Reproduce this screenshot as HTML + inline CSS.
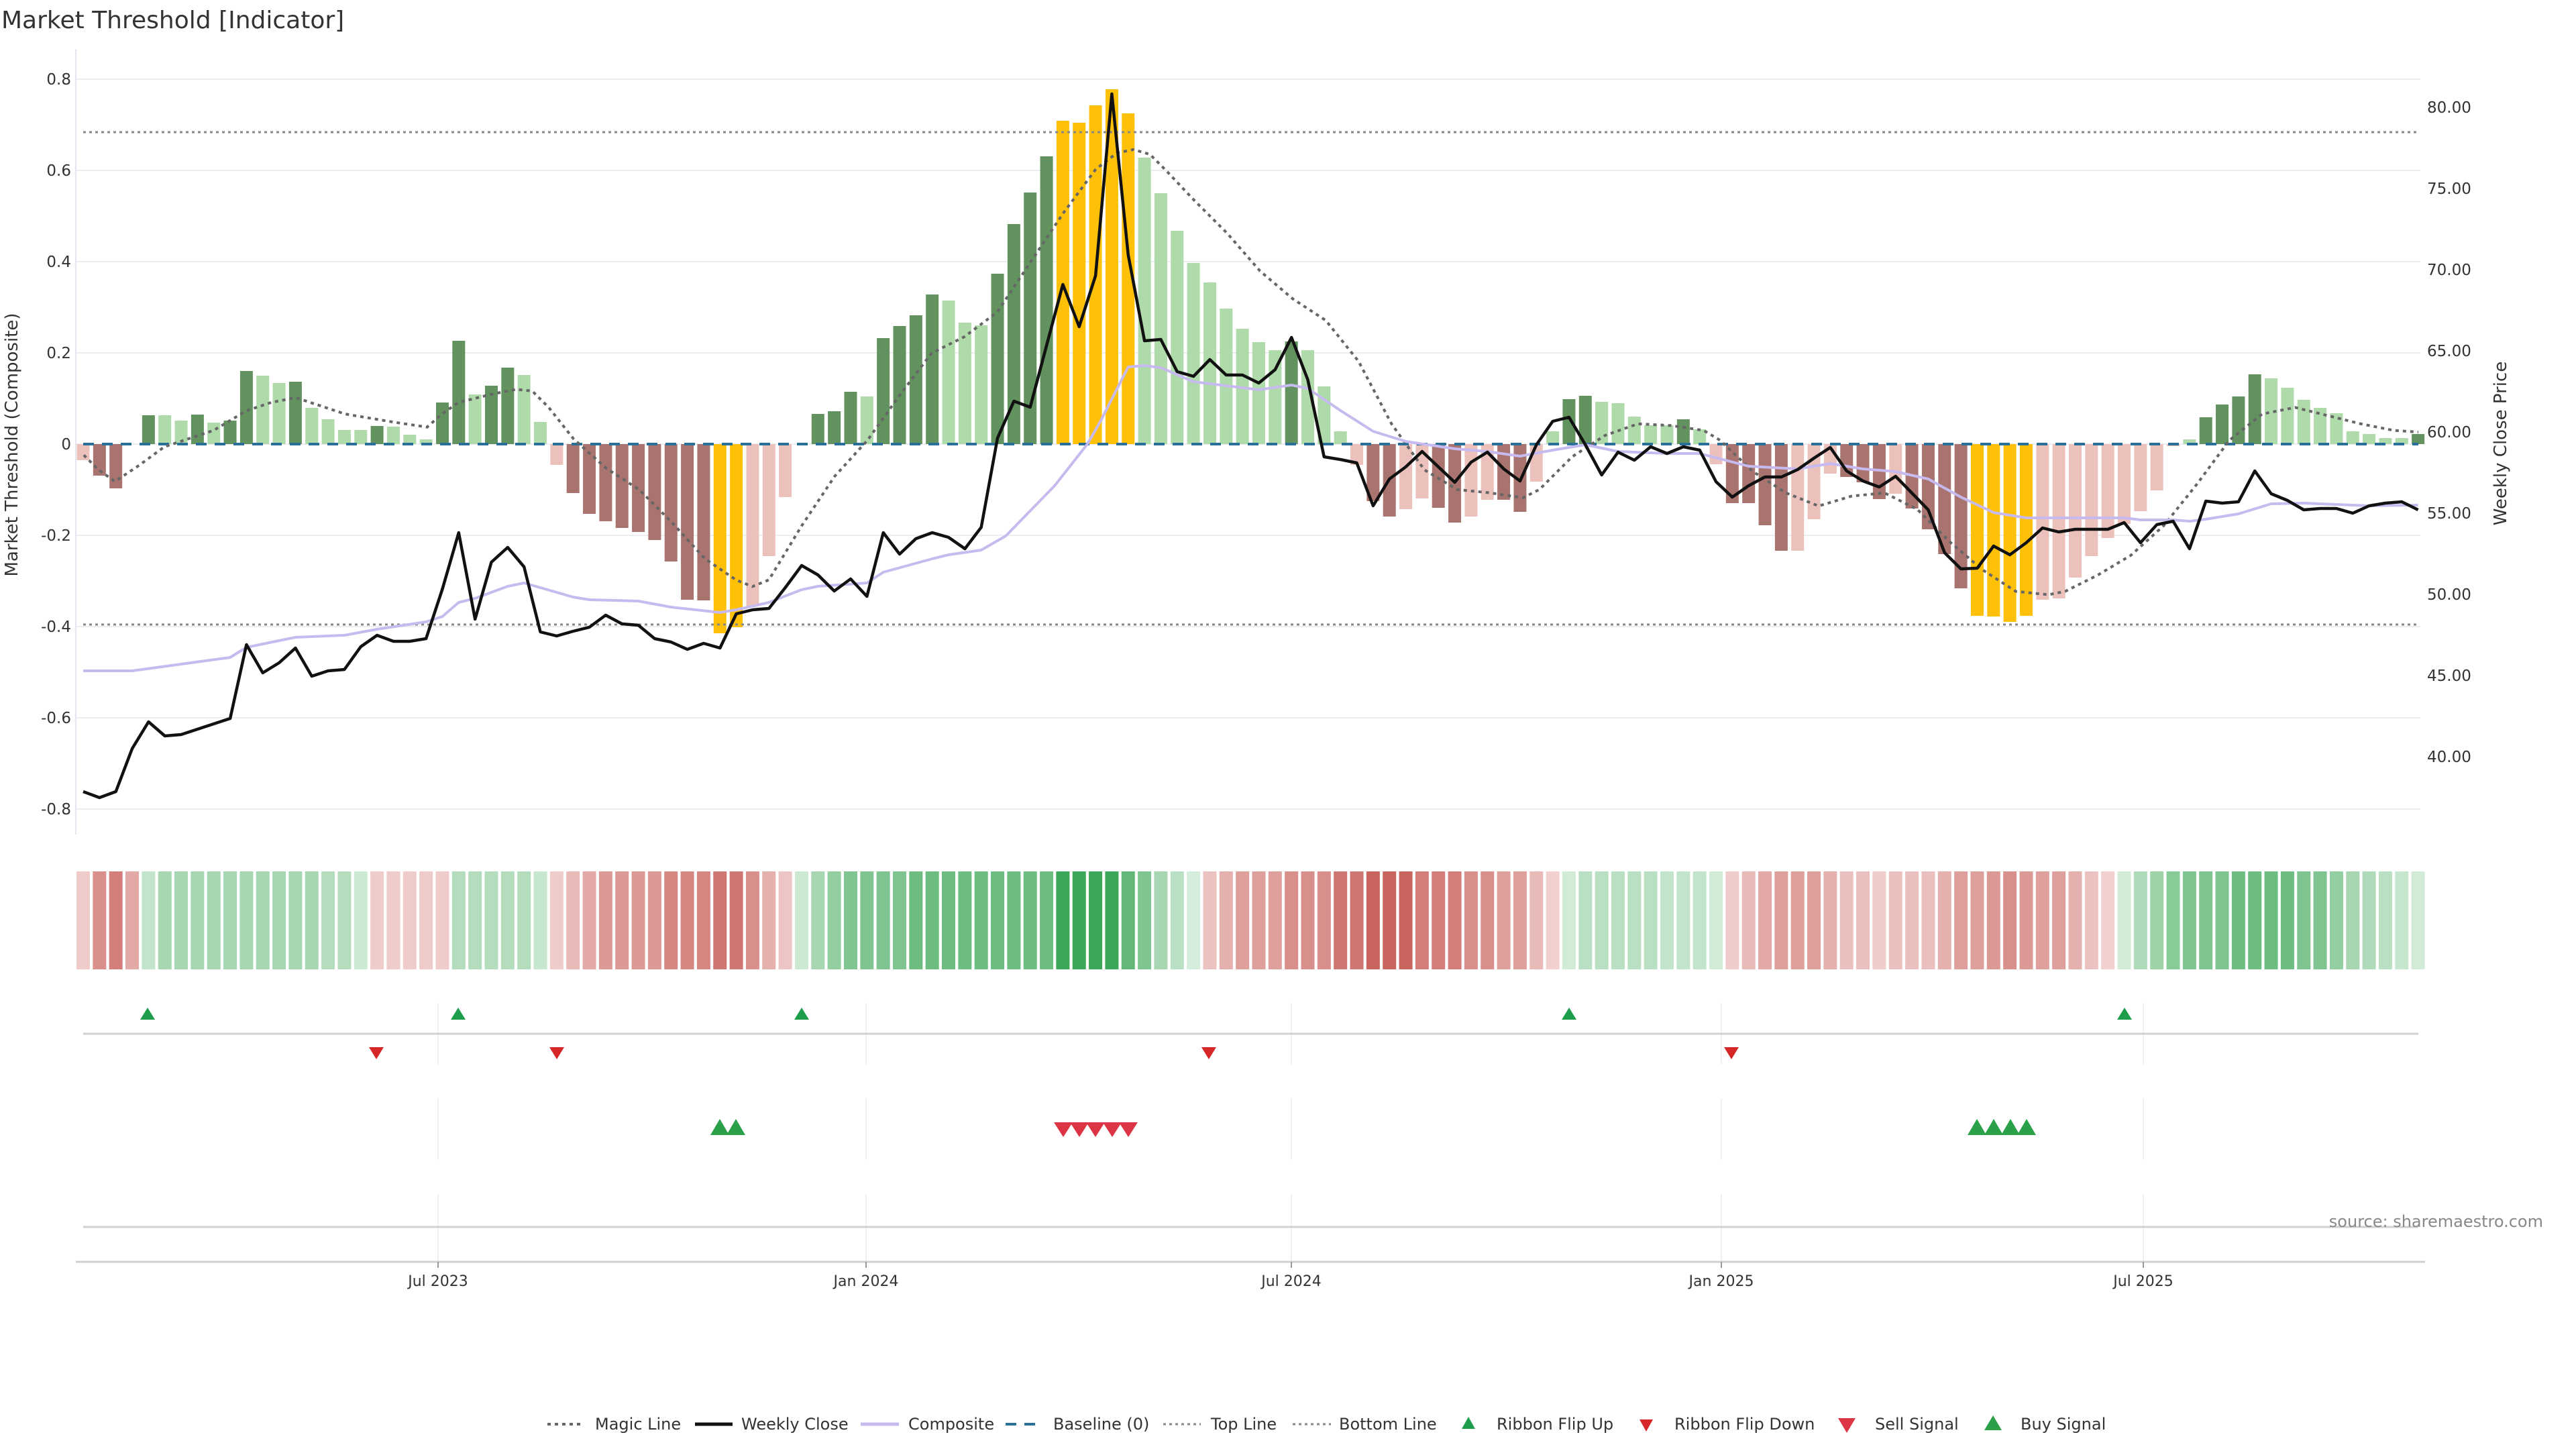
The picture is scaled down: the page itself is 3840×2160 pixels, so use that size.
<!DOCTYPE html>
<html><head><meta charset="utf-8">
<style>
html,body{margin:0;padding:0;background:#fff;}
svg{display:block;font-family:"DejaVu Sans","Liberation Sans",sans-serif;}
</style></head>
<body>
<svg id="s" xmlns="http://www.w3.org/2000/svg" width="3840" height="2160" viewBox="0 0 3840 2160">
<rect width="3840" height="2160" fill="#fff"/>
<text x="2" y="42" font-size="36" fill="#333">Market Threshold [Indicator]</text>
<g id="grid"></g>
<g id="bars"></g>
<g id="lines"></g>
<g id="ribbon"></g>
<g id="sig"></g>
<g id="axes"></g>
<text x="3791" y="1829" font-size="24" fill="#888" text-anchor="end">source: sharemaestro.com</text>
<text transform="translate(26,663) rotate(-90)" font-size="26" fill="#333" text-anchor="middle">Market Threshold (Composite)</text>
<text transform="translate(3736,661) rotate(-90)" font-size="26" fill="#333" text-anchor="middle">Weekly Close Price</text>
<g id="legend" font-size="24" fill="#333"></g>
</svg>
<script>
const NS="http://www.w3.org/2000/svg";
function el(p,t,a,txt){const e=document.createElementNS(NS,t);for(const k in a)e.setAttribute(k,a[k]);if(txt!==undefined)e.textContent=txt;document.getElementById(p).appendChild(e);return e;}
const X=i=>124+i*24.34;
const Y=v=>662-v*680;
const L=113,R=3615;
// grid
[0.8,0.6,0.4,0.2,0,-0.2,-0.4,-0.6,-0.8].forEach(v=>{
 el("grid","line",{x1:L,x2:3608,y1:Y(v),y2:Y(v),stroke:"#eceef2","stroke-width":2});
 el("axes","text",{x:106,y:Y(v)+8,"font-size":23,fill:"#333","text-anchor":"end"},v==0?"0":v.toFixed(1));
});
el("grid","line",{x1:L,x2:L,y1:73,y2:1244,stroke:"#e6e6ee","stroke-width":2});
[80,75,70,65,60,55,50,45,40].forEach(p=>{
 el("axes","text",{x:3618,y:160+(80-p)*24.2+8,"font-size":23,fill:"#333"},p.toFixed(2));
});
// bars
const B=[["P",-24],["B",-47],["B",-66],["N",0],["D",43],["L",43],["L",35],["D",44],["L",32],["D",35],["D",109],["L",102],["L",91],["D",93],["L",54],["L",37],["L",21],["L",21],["D",27],["L",26],["L",14],["L",7],["D",62],["D",154],["L",74],["D",87],["D",114],["L",103],["L",33],["P",-31],["B",-73],["B",-104],["B",-115],["B",-125],["B",-131],["B",-143],["B",-175],["B",-232],["B",-233],["Y",-282],["Y",-273],["P",-242],["P",-167],["P",-79],["N",0],["D",45],["D",49],["D",78],["L",71],["D",158],["D",176],["D",192],["D",223],["L",214],["L",181],["L",177],["D",254],["D",328],["D",375],["D",429],["Y",482],["Y",479],["Y",505],["Y",529],["Y",493],["L",427],["L",374],["L",318],["L",270],["L",241],["L",202],["L",172],["L",152],["L",140],["D",153],["L",140],["L",86],["L",19],["P",-31],["B",-85],["B",-108],["P",-97],["P",-81],["B",-95],["B",-117],["P",-108],["P",-83],["B",-83],["B",-101],["P",-56],["L",19],["D",67],["D",72],["L",63],["L",61],["L",41],["L",28],["L",28],["D",37],["L",22],["P",-30],["B",-88],["B",-88],["B",-121],["B",-159],["P",-159],["P",-112],["P",-44],["B",-49],["B",-57],["B",-82],["P",-74],["B",-96],["B",-127],["B",-164],["B",-215],["Y",-256],["Y",-257],["Y",-265],["Y",-256],["P",-232],["P",-230],["P",-199],["P",-167],["P",-140],["P",-119],["P",-100],["P",-69],["P",-3],["L",7],["D",40],["D",59],["D",71],["D",104],["L",98],["L",84],["L",66],["L",54],["L",46],["L",19],["L",15],["L",9],["L",9],["D",15]];
const C={P:"#ecc1bc",B:"#a9746f",D:"#62935f",L:"#afdaa9",Y:"#ffc107"};
B.forEach((b,i)=>{if(b[0]=="N")return;const h=b[1];
 el("bars","rect",{x:X(i)-9.5,y:h>0?662-h:662,width:19,height:Math.abs(h),fill:C[b[0]]});});
// threshold lines
el("lines","line",{x1:124,x2:3605,y1:197,y2:197,stroke:"#888","stroke-width":3,"stroke-dasharray":"4 5"});
el("lines","line",{x1:124,x2:3605,y1:931,y2:931,stroke:"#888","stroke-width":3,"stroke-dasharray":"4 5"});
el("lines","line",{x1:124,x2:3605,y1:662,y2:662,stroke:"#2a6f97","stroke-width":4,"stroke-dasharray":"16 12"});
// magic
const M=[[51,277],[60,286],[70,293],[85,283],[100,272],[130,262],[150,250],[165,245],[180,242],[210,252],[240,257],[260,260],[269,252],[279,245],[299,240],[314,237],[324,238],[334,248],[349,267],[369,285],[389,298],[409,318],[429,340],[448,353],[458,357],[468,353],[488,320],[508,290],[528,268],[548,240],[567,215],[587,205],[607,190],[627,160],[647,130],[667,103],[680,93],[690,91],[700,94],[710,104],[727,122],[747,142],[767,165],[787,182],[807,195],[827,220],[847,258],[867,286],[887,298],[907,300],[927,303],[937,298],[957,278],[977,265],[997,258],[1017,259],[1037,262],[1047,268],[1067,287],[1087,300],[1107,308],[1127,302],[1147,300],[1167,310],[1187,330],[1207,347],[1227,360],[1247,362],[1257,360],[1277,350],[1297,338],[1317,320],[1337,295],[1357,268],[1377,252],[1397,248],[1417,253],[1437,258],[1457,262],[1472,263]];
el("lines","polyline",{points:M.map(p=>(p[0]*2.449).toFixed(1)+","+(p[1]*2.449).toFixed(1)).join(" "),fill:"none",stroke:"#666","stroke-width":4,"stroke-dasharray":"5 6"});
// composite
const CP=[[0,1000],[3,1000],[9,980],[10,965],[13,950],[16,947],[18,938],[21,927],[22,919],[23,898],[24,892],[26,874],[27,869],[28,876],[30,890],[31,894],[34,896],[36,905],[39,913],[40,909],[42,898],[44,879],[45,874],[48,869],[49,853],[52,833],[53,827],[55,820],[56.5,799],[59.5,724],[61.5,662],[62.3,628],[64,547],[65,545],[66,548],[68,569],[72,581],[74,574],[75,579],[77,612],[79,643],[81,658],[84,669],[86,673],[88,680],[90,671],[92,663],[94,673],[97,676],[99,676],[102,695],[105,699],[107,691],[109,699],[111,703],[113,714],[115,741],[117,764],[119,772],[125,772],[126,775],[128,775],[129,777],[130,774],[132,766],[134,751],[136,750],[140,754],[143,753]];
el("lines","polyline",{points:CP.map(p=>X(p[0]).toFixed(1)+","+p[1]).join(" "),fill:"none",stroke:"#c6baee","stroke-width":4,"stroke-linejoin":"round"});
// close
const K=[1180,1189,1180,1116,1076,1097,1095,1087,1079,1071,961,1003,988,966,1008,1000,998,964,947,956,956,952,878,794,923,838,816,845,942,948,941,935,917,930,932,952,957,968,959,966,915,909,907,876,843,857,881,863,889,794,826,803,794,801,818,786,653,598,607,515,424,487,411,140,380,508,506,554,561,536,559,559,571,551,503,566,681,685,690,754,714,696,673,696,719,689,674,699,717,663,628,622,663,708,674,686,666,676,666,671,718,741,724,711,711,700,683,667,702,717,726,710,735,760,824,848,847,814,827,809,787,793,789,789,789,779,809,782,777,818,747,750,748,702,736,746,760,758,758,765,754,750,748,760];
el("lines","polyline",{points:K.map((y,i)=>X(i).toFixed(1)+","+y).join(" "),fill:"none",stroke:"#111","stroke-width":4.5,"stroke-linejoin":"round"});
// ribbon
const S=[-0.15,-0.5,-0.6,-0.35,0.2,0.35,0.35,0.35,0.35,0.35,0.35,0.35,0.35,0.35,0.35,0.28,0.28,0.15,-0.15,-0.15,-0.15,-0.15,-0.15,0.28,0.28,0.28,0.28,0.28,0.18,-0.15,-0.25,-0.35,-0.45,-0.45,-0.45,-0.45,-0.55,-0.55,-0.55,-0.65,-0.65,-0.5,-0.3,-0.18,0.15,0.35,0.45,0.55,0.55,0.55,0.55,0.65,0.65,0.65,0.65,0.65,0.65,0.65,0.65,0.65,0.9,0.9,0.9,0.9,0.7,0.55,0.35,0.25,0.1,-0.2,-0.3,-0.4,-0.4,-0.4,-0.5,-0.5,-0.5,-0.65,-0.65,-0.75,-0.75,-0.75,-0.6,-0.6,-0.6,-0.5,-0.5,-0.4,-0.4,-0.25,-0.12,0.12,0.25,0.25,0.25,0.25,0.25,0.2,0.2,0.2,0.12,-0.15,-0.25,-0.35,-0.4,-0.4,-0.4,-0.3,-0.22,-0.22,-0.15,-0.22,-0.22,-0.22,-0.3,-0.4,-0.4,-0.45,-0.5,-0.45,-0.4,-0.4,-0.3,-0.2,-0.12,0.12,0.3,0.4,0.5,0.55,0.55,0.55,0.65,0.65,0.65,0.65,0.55,0.55,0.45,0.35,0.3,0.25,0.18,0.12];
function mix(a,b,t){t=Math.max(0,Math.min(1,t));return "rgb("+a.map((v,k)=>Math.round(v+(b[k]-v)*t)).join(",")+")";}
S.forEach((s,i)=>{const c=s>=0?mix([232,246,235],[52,162,79],s/0.95):mix([248,228,228],[198,92,86],-s/0.8);
 el("ribbon","rect",{x:X(i)-10,y:1299,width:20,height:146,fill:c});});
// signal panel
[653,1291,1925,2566,3195].forEach(x=>{
 [[1495,1586],[1638,1729],[1780,1881]].forEach(s=>el("grid","line",{x1:x,x2:x,y1:s[0],y2:s[1],stroke:"#eef0f3","stroke-width":2}));
});
el("axes","line",{x1:124,x2:3605,y1:1541,y2:1541,stroke:"#d0d0d0","stroke-width":3});
el("axes","line",{x1:124,x2:3605,y1:1829,y2:1829,stroke:"#d0d0d0","stroke-width":3});
el("axes","line",{x1:L,x2:R,y1:1881,y2:1881,stroke:"#d0d0d0","stroke-width":3});
[["Jul 2023",653],["Jan 2024",1291],["Jul 2024",1925],["Jan 2025",2566],["Jul 2025",3195]].forEach(d=>{
 el("axes","line",{x1:d[1],x2:d[1],y1:1881,y2:1890,stroke:"#999","stroke-width":2});
 el("axes","text",{x:d[1],y:1917,"font-size":22,fill:"#333","text-anchor":"middle"},d[0]);
});
function up(p,x,y,w,h,c){el(p,"polygon",{points:`${x-w/2},${y+h/2} ${x+w/2},${y+h/2} ${x},${y-h/2}`,fill:c});}
function dn(p,x,y,w,h,c){el(p,"polygon",{points:`${x-w/2},${y-h/2} ${x+w/2},${y-h/2} ${x},${y+h/2}`,fill:c});}
[220,683,1195,2339,3167].forEach(x=>up("sig",x,1511,22,18,"#1e9e4a"));
[561,830,1802,2581].forEach(x=>dn("sig",x,1570,22,18,"#d62728"));
[1073,1097,2947,2972,2997,3021].forEach(x=>up("sig",x,1680,28,24,"#2ca049"));
[1585,1609,1633,1658,1682].forEach(x=>dn("sig",x,1684,28,22,"#dc3545"));
// legend
const LY=2123;
function lline(x1,x2,a){el("legend","line",Object.assign({x1:x1,x2:x2,y1:LY,y2:LY},a));}
function ltext(x,t){el("legend","text",{x:x,y:LY+8},t);}
lline(816,869,{stroke:"#666","stroke-width":4,"stroke-dasharray":"5 6"});ltext(887,"Magic Line");
lline(1036,1092,{stroke:"#111","stroke-width":5});ltext(1105,"Weekly Close");
lline(1283,1340,{stroke:"#c6baee","stroke-width":5});ltext(1354,"Composite");
lline(1499,1555,{stroke:"#2a6f97","stroke-width":4,"stroke-dasharray":"16 12"});ltext(1570,"Baseline (0)");
lline(1734,1790,{stroke:"#888","stroke-width":3,"stroke-dasharray":"4 5"});ltext(1805,"Top Line");
lline(1927,1984,{stroke:"#888","stroke-width":3,"stroke-dasharray":"4 5"});ltext(1996,"Bottom Line");
up("legend",2189,LY-2,20,18,"#1e9e4a");ltext(2231,"Ribbon Flip Up");
dn("legend",2454,LY+2,20,18,"#d62728");ltext(2496,"Ribbon Flip Down");
dn("legend",2753,LY+2,26,22,"#dc3545");ltext(2795,"Sell Signal");
up("legend",2971,LY-2,26,22,"#2ca049");ltext(3012,"Buy Signal");
</script>
</body></html>
